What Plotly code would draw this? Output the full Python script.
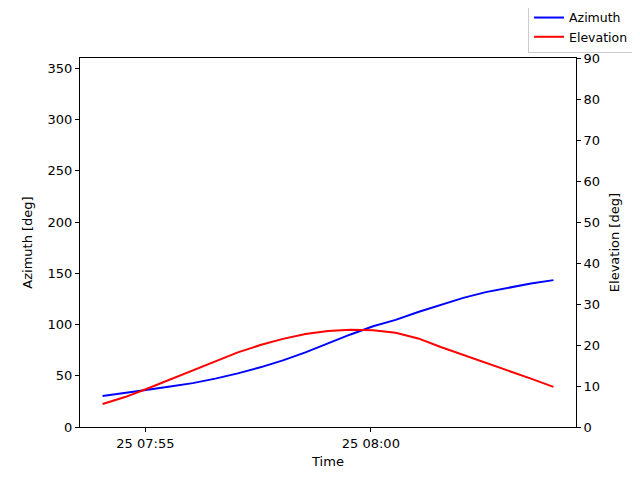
import pandas as pd
import plotly.graph_objects as go

# sample times, 30 s apart
t0 = pd.Timestamp("2024-01-25 07:54:03")
times = [t0 + pd.Timedelta(seconds=30 * k) for k in range(21)]

azimuth = [30.2, 33.0, 36.3, 39.4, 42.8, 47.2, 52.3, 58.2, 65.0, 72.8, 81.6,
           90.3, 98.3, 104.5, 112.2, 119.4, 126.0, 131.6, 136.1, 140.0, 143.3]
elevation = [5.6, 7.3, 9.4, 11.6, 13.9, 16.1, 18.2, 20.0, 21.5, 22.7, 23.4,
             23.7, 23.6, 23.0, 21.6, 19.5, 17.6, 15.6, 13.7, 11.8, 9.8]

tick_times = [pd.Timestamp("2024-01-25 07:55"), pd.Timestamp("2024-01-25 08:00")]
tick_text = ["25 07:55", "25 08:00"]

fig = go.Figure()
fig.add_trace(go.Scatter(x=times, y=azimuth, mode="lines", name="Azimuth",
                         line=dict(color="blue", width=2)))
fig.add_trace(go.Scatter(x=times, y=elevation, mode="lines", name="Elevation",
                         line=dict(color="red", width=2), yaxis="y2"))

fnt = dict(family="DejaVu Sans", size=13, color="black")
axis_common = dict(showgrid=False, zeroline=False, showline=True, linecolor="black",
                   linewidth=1, ticks="outside", ticklen=4, tickcolor="black",
                   tickfont=fnt)

# page body has an 8px margin, so margins are shifted to compensate
fig.update_layout(
    width=640, height=480,
    margin=dict(l=72, r=72, t=50, b=61, autoexpand=False),
    plot_bgcolor="white", paper_bgcolor="white",
    font=fnt,
    xaxis=dict(range=[t0 - pd.Timedelta(seconds=30), times[-1] + pd.Timedelta(seconds=30)],
               tickvals=tick_times, ticktext=tick_text, mirror=True,
               title=dict(text="Time", standoff=7, font=fnt), **axis_common),
    yaxis=dict(range=[0, 360], dtick=50,
               title=dict(text="Azimuth [deg]", standoff=12, font=fnt), **axis_common),
    yaxis2=dict(range=[0, 90], dtick=10, overlaying="y", side="right", **axis_common),
    legend=dict(x=1.117, y=1.152, xanchor="right", yanchor="top",
                bordercolor="#cccccc", borderwidth=1,
                bgcolor="rgba(255,255,255,0.8)", font=dict(fnt, size=12.5),
                tracegroupgap=0),
)
fig.add_annotation(text="Elevation [deg]", xref="paper", yref="paper", x=1.078, y=0.5,
                   xanchor="center", yanchor="middle",
                   textangle=-90, showarrow=False, font=fnt)

fig.write_html("out.html")
